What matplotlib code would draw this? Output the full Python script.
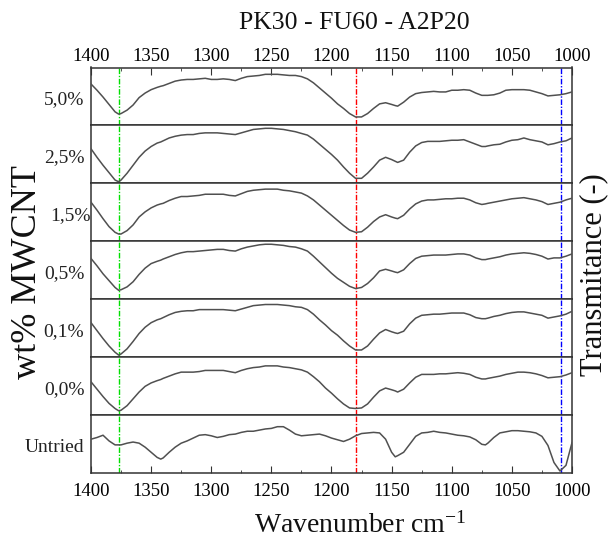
import matplotlib
matplotlib.use('Agg')
import matplotlib.pyplot as plt
from matplotlib.ticker import MultipleLocator

plt.rcParams['font.family'] = ['Liberation Serif', 'DejaVu Serif']
plt.rcParams['mathtext.default'] = 'regular'

WAVENUMBER = [1400, 1395, 1390, 1385, 1380, 1377, 1375, 1370, 1365, 1360, 1355, 1350, 1345, 1342,
              1340, 1335, 1330, 1325, 1320, 1315, 1310, 1305, 1300, 1295, 1290, 1285, 1280, 1275,
              1270, 1265, 1260, 1255, 1250, 1245, 1240, 1235, 1230, 1225, 1220, 1215, 1210, 1205,
              1200, 1195, 1190, 1185, 1180, 1175, 1170, 1165, 1160, 1155, 1150, 1147, 1145, 1140,
              1135, 1130, 1125, 1120, 1115, 1110, 1105, 1100, 1095, 1090, 1085, 1080, 1075, 1072,
              1070, 1065, 1060, 1055, 1050, 1045, 1040, 1035, 1030, 1025, 1020, 1015, 1010, 1005, 1000]

LABELS = ['5,0%', '2,5%', '1,5%', '0,5%', '0,1%', '0,0%', 'Untried']

T_5_0 = [.71, .60, .48, .35, .22, .18, .19, .25, .34, .47, .55, .61, .65, .67, .68, .72, .76, .78, .79, .79,
         .80, .81, .79, .79, .80, .79, .77, .81, .84, .85, .86, .88, .88, .88, .87, .86, .86, .84, .80, .73,
         .64, .55, .46, .36, .28, .19, .13, .13, .19, .28, .36, .38, .35, .33, .32, .39, .48, .54, .56, .57,
         .58, .57, .57, .60, .60, .61, .60, .55, .51, .51, .51, .52, .55, .60, .61, .61, .61, .60, .57, .54,
         .50, .51, .52, .54, .57]
T_2_5 = [.59, .44, .30, .17, .04, .01, .04, .16, .30, .44, .55, .63, .69, .71, .73, .78, .81, .83, .84, .84,
         .86, .87, .87, .87, .86, .85, .84, .87, .90, .93, .94, .95, .95, .94, .93, .91, .89, .86, .83, .76,
         .67, .58, .49, .39, .27, .16, .07, .07, .16, .27, .39, .44, .40, .37, .35, .39, .53, .64, .70, .72,
         .72, .72, .73, .74, .74, .75, .71, .67, .63, .63, .64, .66, .67, .71, .74, .75, .78, .75, .73, .71,
         .66, .68, .71, .73, .78]
T_1_5 = [.67, .53, .38, .24, .14, .11, .11, .17, .27, .41, .50, .57, .62, .64, .65, .70, .74, .77, .77, .78,
         .79, .81, .81, .81, .81, .79, .78, .82, .86, .88, .89, .90, .90, .90, .88, .87, .85, .83, .78, .71,
         .62, .53, .44, .35, .26, .18, .14, .15, .23, .33, .41, .45, .41, .39, .38, .44, .55, .64, .69, .71,
         .71, .72, .73, .73, .74, .74, .71, .66, .63, .64, .65, .67, .69, .71, .73, .74, .75, .73, .71, .68,
         .63, .65, .67, .71, .74]
T_0_5 = [.70, .57, .43, .31, .19, .14, .15, .20, .29, .42, .53, .61, .65, .67, .69, .73, .77, .80, .82, .82,
         .83, .84, .85, .86, .86, .84, .83, .87, .90, .92, .94, .95, .95, .94, .93, .91, .90, .87, .83, .74,
         .64, .54, .44, .35, .28, .21, .17, .19, .26, .36, .48, .51, .48, .46, .45, .50, .61, .70, .74, .75,
         .76, .76, .76, .77, .78, .78, .76, .71, .68, .68, .69, .71, .73, .76, .78, .79, .80, .79, .77, .74,
         .69, .71, .71, .74, .78]
T_0_1 = [.59, .45, .31, .18, .07, .02, .04, .13, .26, .40, .51, .59, .64, .66, .68, .73, .77, .79, .80, .80,
         .82, .82, .82, .82, .82, .81, .80, .83, .86, .89, .90, .91, .91, .91, .90, .89, .87, .86, .82, .74,
         .64, .55, .45, .37, .27, .18, .11, .11, .18, .30, .41, .47, .43, .41, .40, .44, .57, .67, .72, .73,
         .74, .74, .75, .76, .76, .76, .73, .68, .66, .66, .67, .70, .72, .75, .77, .78, .78, .76, .74, .72,
         .67, .69, .71, .74, .79]
T_0_0 = [.57, .44, .31, .19, .10, .06, .07, .15, .27, .39, .49, .55, .59, .61, .63, .67, .71, .74, .74, .74,
         .75, .77, .77, .77, .77, .75, .73, .77, .80, .82, .83, .85, .85, .85, .83, .82, .80, .78, .74, .66,
         .57, .46, .37, .27, .18, .11, .10, .11, .18, .30, .41, .46, .43, .41, .39, .44, .55, .65, .70, .70,
         .70, .71, .71, .72, .73, .72, .70, .65, .62, .62, .63, .65, .67, .70, .72, .74, .74, .73, .71, .68,
         .64, .65, .66, .69, .73]
T_UNTRIED = [.58, .61, .65, .55, .48, .48, .48, .51, .53, .51, .44, .35, .26, .23, .25, .35, .44, .51, .55, .60,
             .65, .66, .64, .61, .63, .66, .67, .70, .72, .72, .74, .76, .77, .80, .80, .74, .67, .64, .65, .66,
             .67, .64, .60, .57, .54, .58, .64, .68, .69, .70, .69, .58, .35, .27, .29, .35, .49, .63, .69, .70,
             .72, .70, .69, .67, .65, .64, .62, .57, .49, .48, .51, .61, .69, .71, .73, .73, .72, .71, .69, .63,
             .47, .17, .02, .12, .52]

SERIES = [T_5_0, T_2_5, T_1_5, T_0_5, T_0_1, T_0_0, T_UNTRIED]

MARKER_LINES = [1377, 1180, 1009]
MARKER_COLORS = ['#00e000', '#ff0000', '#0000ff']

W, H = 609, 540
fig = plt.figure(figsize=(W / 100, H / 100), dpi=100)
axes = fig.subplots(7, 1, sharex=True,
                    gridspec_kw=dict(hspace=0, left=91 / W, right=572 / W,
                                     top=1 - 67.5 / H, bottom=1 - 473.3 / H))

for i, (ax, lab, vals) in enumerate(zip(axes, LABELS, SERIES)):
    ax.plot(WAVENUMBER, vals, color='#505050', lw=1.1, zorder=3)
    for m, c in zip(MARKER_LINES, MARKER_COLORS):
        ax.axvline(m, color=c, lw=1.0, ls=(0, (4, 1.2, 1, 1.2)), zorder=2)
    ax.set_ylim(-0.02, 1.0)
    ax.set_xlim(1400, 1000)
    ax.set_yticks([])
    for s in ax.spines.values():
        s.set_color('#333333')
        s.set_linewidth(1.1)
    ax.xaxis.set_major_locator(MultipleLocator(50))
    ax.xaxis.set_minor_locator(MultipleLocator(25))
    ax.tick_params(axis='x', which='both', bottom=False, top=False,
                   labelbottom=False, labeltop=False)
    xoff = 0.0 if lab == '1,5%' else -0.014
    ax.text(xoff, 0.45, lab, transform=ax.transAxes, ha='right', va='center',
            fontsize=14, color='#222222')

axes[0].tick_params(axis='x', which='both', top=True, labeltop=True, direction='in',
                    labelsize=13.5, pad=1.5, color='#333333')
axes[0].tick_params(axis='x', which='major', length=5)
axes[0].tick_params(axis='x', which='minor', length=2.5)
axes[-1].tick_params(axis='x', which='both', bottom=True, labelbottom=True, direction='in',
                     labelsize=13.5, pad=7, color='#333333')
axes[-1].tick_params(axis='x', which='major', length=5)
axes[-1].tick_params(axis='x', which='minor', length=2.5)

fig.text(354 / W, 1 - 23 / H, 'PK30 - FU60 - A2P20', ha='center', va='center', fontsize=18.5, color='#111111')
fig.text(360 / W, 1 - 525 / H, 'Wavenumber cm$^{-1}$', ha='center', va='center', fontsize=20, color='#111111')
fig.text(28 / W, 1 - 272 / H, 'wt% MWCNT', rotation=90, ha='center', va='center', fontsize=26, color='#111111')
fig.text(594 / W, 1 - 275 / H, 'Transmitance (-)', rotation=90, ha='center', va='center', fontsize=22, color='#111111')

fig.savefig('out.png', dpi=100)
